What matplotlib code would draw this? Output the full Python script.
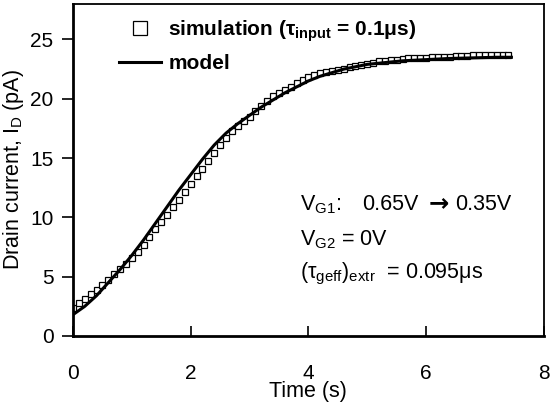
import numpy as np
import matplotlib
matplotlib.use("Agg")
import matplotlib.pyplot as plt

plt.rcParams["font.family"] = ["Liberation Sans", "DejaVu Sans"]
plt.rcParams["mathtext.fontset"] = "custom"
plt.rcParams["mathtext.rm"] = "Liberation Sans"
plt.rcParams["mathtext.it"] = "Liberation Sans:italic"
plt.rcParams["mathtext.bf"] = "Liberation Sans:bold"

# simulation (squares), one sample every 0.1 s
SIM_T = np.round(np.arange(0, 75) * 0.1, 1)
SIM_I = [2.4, 2.8, 3.15, 3.5, 3.9, 4.3, 4.75, 5.2, 5.65, 6.1,
         6.55, 7.1, 7.7, 8.35, 9.0, 9.6, 10.2, 10.85, 11.45, 12.1,
         12.8, 13.45, 14.1, 14.75, 15.45, 16.1, 16.7, 17.25, 17.7, 18.1,
         18.5, 18.95, 19.4, 19.85, 20.2, 20.5, 20.75, 21.0, 21.3, 21.6,
         21.85, 22.0, 22.15, 22.25, 22.35, 22.45, 22.55, 22.65, 22.75, 22.85,
         22.95, 23.05, 23.15, 23.2, 23.25, 23.3, 23.35, 23.4, 23.4, 23.45,
         23.45, 23.5, 23.5, 23.55, 23.55, 23.6, 23.6, 23.6, 23.65, 23.65,
         23.7, 23.7, 23.7, 23.65, 23.65]

# model (solid line)
MODEL_T = [0, 0.2, 0.4, 0.6, 0.8, 1.0, 1.2, 1.4, 1.6, 1.8, 2.0, 2.2, 2.4,
           2.6, 2.8, 3.0, 3.2, 3.4, 3.6, 3.8, 4.0, 4.2, 4.4, 4.6, 4.8, 5.0,
           5.2, 5.4, 5.6, 5.8, 6.0, 6.4, 6.8, 7.2, 7.45]
MODEL_I = [1.8, 2.5, 3.4, 4.5, 5.6, 6.8, 8.1, 9.5, 10.9, 12.3, 13.6, 14.9, 16.1,
           17.1, 17.9, 18.6, 19.3, 19.9, 20.5, 21.0, 21.5, 21.9, 22.2, 22.5, 22.7, 22.9,
           23.0, 23.1, 23.2, 23.25, 23.3, 23.4, 23.45, 23.5, 23.5]

X_TICKS = [0, 2, 4, 6, 8]
Y_TICKS = [0, 5, 10, 15, 20, 25]

fig = plt.figure(figsize=(5.5, 4.05), dpi=100)
ax = fig.add_axes([0.1327, 0.1704, 0.856, 0.82])

sim, = ax.plot(SIM_T, SIM_I, ls="none", marker="s", ms=4.2, mfc="white",
               mec="black", mew=0.9, zorder=2,
               label=r"simulation (τ$_{\mathbf{input}}$ = 0.1μs)")
mod, = ax.plot(MODEL_T, MODEL_I, color="black", lw=2.2, zorder=3,
               label="model")

ax.set_xlim(0, 8)
ax.set_ylim(0, 28)
ax.set_xticks(X_TICKS)
ax.set_yticks(Y_TICKS)
ax.tick_params(axis="x", direction="in", length=7, width=1.2, pad=20,
               labelsize=15)
ax.tick_params(axis="y", direction="out", length=8, width=1.2, pad=6,
               labelsize=15)
for s in ("left", "bottom"):
    ax.spines[s].set_linewidth(2)
for s in ("top", "right"):
    ax.spines[s].set_linewidth(1.3)

ax.set_xlabel("Time (s)", fontsize=15.5, labelpad=-1)
ax.set_ylabel(r"Drain current, I$_{\rm D}$ (pA)", fontsize=15.5, labelpad=3)

leg = ax.legend(handles=[sim, mod], loc="upper left",
                bbox_to_anchor=(0.0765, 0.988), frameon=False, borderpad=0,
                markerscale=2.3, handlelength=2.0, handletextpad=0.35,
                labelspacing=0.5, prop={"weight": "bold", "size": 15})

ANN = dict(transform=ax.transAxes, fontsize=15.5, va="baseline")
ax.text(0.482, 0.3795, r"V$_{\rm G1}$:", **ANN)
ax.text(0.6136, 0.3795, "0.65V", **ANN)
ax.text(0.776, 0.3795, "→", transform=ax.transAxes, fontsize=17.5,
        family="DejaVu Sans", fontweight="bold", ha="center", va="baseline")
ax.text(0.811, 0.3795, "0.35V", **ANN)
ax.text(0.482, 0.2741, r"V$_{\rm G2}$ = 0V", **ANN)
ax.text(0.482, 0.1747, r"(τ$_{\rm geff}$)$_{\rm extr}$  = 0.095μs", **ANN)

fig.savefig("out.png", dpi=100)
